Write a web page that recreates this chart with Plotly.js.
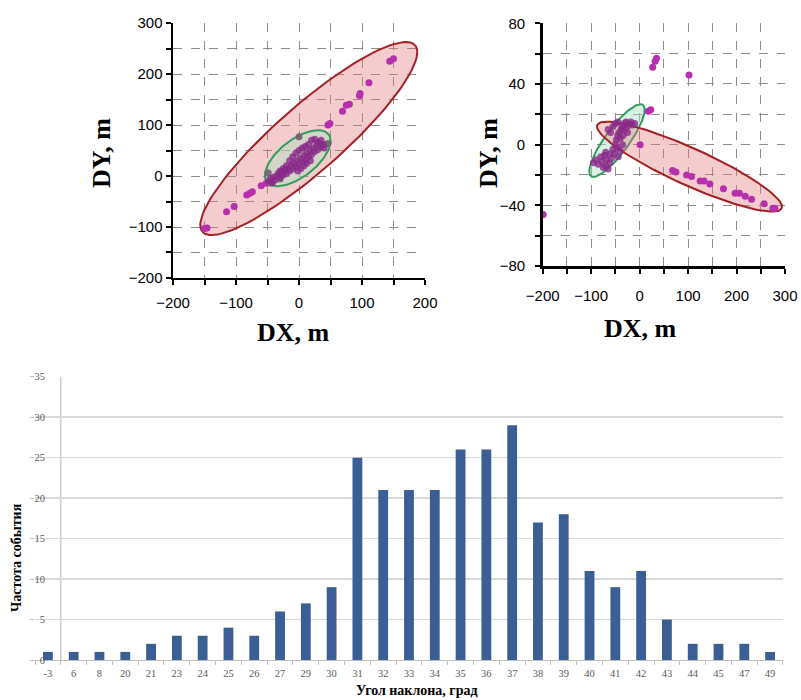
<!DOCTYPE html>
<html>
<head>
<meta charset="utf-8">
<script src="https://cdn.plot.ly/plotly-3.0.1.min.js"></script>
<style>html,body{margin:0;padding:0;background:#fff;}#chart{width:801px;height:700px;}</style>
</head>
<body>
<div id="chart"></div>
<script>
// ---------- Top-left scatter (DX, DY) ----------
const leftOuterX = [-150,-146,-115,-103,-83,-78,-74,-60,-52,46,49,69,75,80,96,97,111,144,150];
const leftOuterY = [-103,-102,-70,-60,-37,-34,-31,-19,-14,100,103,127,139,141,158,162,183,225,230];
const leftClusterX = [-48,-45,-42,-40,-38,-35,-33,-30,-28,-25,-22,-20,-18,-15,-12,-10,-8,-5,-3,0,2,5,8,10,12,15,18,20,22,25,28,30,32,35,38,40,-5,0,5,10,15,20,-15,-10,25,30,35,-20,-25,-30,8,12,18,-2,3];
const leftClusterY = [-10,-5,-12,-2,-8,0,5,-3,8,2,12,5,15,10,20,14,25,18,30,22,35,28,40,32,45,38,50,42,55,48,60,52,65,58,62,55,45,50,55,58,62,70,30,38,72,66,70,20,15,10,20,25,30,10,15];
const leftGrayX = [0,46,-49,-44,40,-30];
const leftGrayY = [77,64,6,-14,62,-6];

// ---------- Top-right scatter ----------
const rightOuterX = [-199,27,32,35,102,18,23,1,68,75,97,107,125,133,145,173,197,206,218,231,257,275,279];
const rightOuterY = [-46,51,55,57,46,22,23,0,-17,-18,-20,-21,-24,-24,-26,-29,-32,-32,-34,-36,-39,-42,-42];
const rightClusterX = [-95,-90,-85,-80,-78,-72,-70,-68,-65,-62,-60,-58,-55,-52,-50,-48,-46,-45,-42,-40,-38,-36,-34,-32,-30,-28,-25,-22,-18,-15,-10,-55,-50,-45,-60,-65,-40,-44,-75,-70,-35,-25];
const rightClusterY = [-12,-10,-13,-8,-11,-7,-14,-10,-16,-12,-6,-9,-3,-6,0,3,-2,6,8,4,10,12,6,14,10,15,12,14,15,13,14,12,14,15,8,10,-4,-8,-15,-5,0,8];

// ---------- Confidence ellipses: center, semi-axis vectors ----------
const ellLeftRedC = [15.5, 73.5],  ellLeftRedA = [168.7, 183.1], ellLeftRedB = [-34.6, 48.6];
const ellLeftGrnC = [-2, 35],      ellLeftGrnA = [48.9, 46.7],   ellLeftGrnB = [-18.1, 28.8];
const ellRightRedC = [103, -14.5], ellRightRedA = [190.3, -27.5], ellRightRedB = [15.7, 11.1];
const ellRightGrnC = [-46.7, 2.7], ellRightGrnA = [53.5, 23.5],  ellRightGrnB = [20, -4.66];

// ---------- Histogram ----------
const angleCats = ['-3','6','8','20','21','23','24','25','26','27','29','30','31','32','33','34','35','36','37','38','39','40','41','42','43','44','45','47','49'];
const angleFreq = [1,1,1,1,2,3,3,4,3,6,7,9,25,21,21,21,26,26,29,17,18,11,9,11,5,2,2,2,1];

function ellipse(c, a, b, xa, ya, line, fill) {
  const xs = [], ys = [];
  const n = 120;
  for (let i = 0; i <= n; i++) {
    const t = 2 * Math.PI * i / n;
    xs.push(c[0] + Math.cos(t) * a[0] + Math.sin(t) * b[0]);
    ys.push(c[1] + Math.cos(t) * a[1] + Math.sin(t) * b[1]);
  }
  return {x: xs, y: ys, xaxis: xa, yaxis: ya, mode: 'lines', fill: 'toself',
          fillcolor: fill, line: {color: line, width: 2}, hoverinfo: 'skip', showlegend: false};
}
function pts(x, y, xa, ya, color, size, op) {
  return {x: x, y: y, xaxis: xa, yaxis: ya, mode: 'markers', showlegend: false,
          marker: {color: color, size: size, opacity: op, line: {width: 0}}};
}

const MAG = '#b52fae', DARK = '#8a2a88', GRAY = '#6f5f70';
const RED = '#a51f26', REDF = 'rgba(226,120,125,0.38)';
const GRN = '#2f9e5c', GRNF = 'rgba(170,225,195,0.45)';

const traces = [
  ellipse(ellLeftRedC, ellLeftRedA, ellLeftRedB, 'x', 'y', RED, REDF),
  ellipse(ellLeftGrnC, ellLeftGrnA, ellLeftGrnB, 'x', 'y', GRN, GRNF),
  pts(leftOuterX, leftOuterY, 'x', 'y', MAG, 7, 1),
  pts(leftGrayX, leftGrayY, 'x', 'y', GRAY, 7, 0.9),
  pts(leftClusterX, leftClusterY, 'x', 'y', DARK, 7, 0.8),

  ellipse(ellRightGrnC, ellRightGrnA, ellRightGrnB, 'x2', 'y2', GRN, GRNF),
  ellipse(ellRightRedC, ellRightRedA, ellRightRedB, 'x2', 'y2', RED, REDF),
  pts(rightOuterX, rightOuterY, 'x2', 'y2', MAG, 7, 1),
  pts(rightClusterX, rightClusterY, 'x2', 'y2', DARK, 7, 0.8),

  {type: 'bar', x: angleCats, y: angleFreq, xaxis: 'x3', yaxis: 'y3',
   marker: {color: '#3b5e94'}, showlegend: false}
];

const tickFont = {family: 'Liberation Sans, Arial, sans-serif', size: 15, color: '#000'};
function topAxis(domain, range, dtick, mdtick, anchor, standoff) {
  return {domain: domain, range: range, anchor: anchor, dtick: dtick, tick0: 0,
    showline: true, linecolor: '#000', linewidth: 2.5, zeroline: false,
    showgrid: true, gridcolor: '#8c8c8c', griddash: 'dash', gridwidth: 1,
    ticks: 'outside', ticklen: 5, tickwidth: 2, tickcolor: '#000',
    ticklabelstandoff: standoff,
    minor: {dtick: mdtick, showgrid: true, gridcolor: '#8c8c8c', griddash: 'dash', gridwidth: 1,
            ticks: 'outside', ticklen: 5, tickwidth: 2, tickcolor: '#000'},
    tickfont: tickFont, fixedrange: true};
}

const serifSmall = {family: 'Liberation Serif, Times New Roman, serif', size: 10.5, color: '#595959'};
const titleBig = {family: 'Liberation Serif, Times New Roman, serif', size: 26, color: '#000', weight: 'bold'};
const titleSmall = {family: 'Liberation Serif, Times New Roman, serif', size: 14, color: '#000', weight: 'bold'};

const layout = {
  width: 801, height: 700, margin: {l: 0, r: 0, t: 0, b: 0},
  paper_bgcolor: '#fff', plot_bgcolor: 'rgba(0,0,0,0)', showlegend: false,
  bargap: 0.62,
  xaxis: topAxis([0.216, 0.5306], [-200, 200], 100, 50, 'y', 5),
  yaxis: topAxis([0.6029, 0.967], [-200, 300], 100, 50, 'x', 0),
  xaxis2: topAxis([0.6775, 0.980], [-200, 300], 100, 50, 'y2', 9),
  yaxis2: topAxis([0.62, 0.9667], [-80, 80], 40, 20, 'x2', 7),
  xaxis3: {domain: [0.0437, 0.9775], anchor: 'y3', type: 'category', range: [-0.5, 28.5],
    showline: true, linecolor: '#bfbfbf', linewidth: 1, showgrid: false,
    ticks: 'outside', tickson: 'boundaries', ticklen: 4, tickcolor: '#bfbfbf',
    ticklabelstandoff: 3, tickfont: serifSmall, fixedrange: true},
  yaxis3: {domain: [0.0571, 0.4619], anchor: 'x3', range: [0, 35], dtick: 5,
    showline: false, zeroline: false, showgrid: true, gridcolor: '#d9d9d9', gridwidth: 1.5,
    ticks: 'outside', ticklen: 4, tickcolor: '#bfbfbf', ticklabelstandoff: -17,
    tickfont: serifSmall, fixedrange: true},
  shapes: [
    {type: 'line', xref: 'x3', yref: 'y3 domain', x0: 0.5, x1: 0.5, y0: 0, y1: 1,
     line: {color: '#cfcfcf', width: 1.5}, layer: 'below'}
  ],
  annotations: [
    {text: 'DX, m', xref: 'paper', yref: 'paper', x: 293/801, y: 1 - 332/700, showarrow: false, font: titleBig, xanchor: 'center', yanchor: 'middle'},
    {text: 'DY, m', xref: 'paper', yref: 'paper', x: 101/801, y: 1 - 153/700, showarrow: false, font: titleBig, textangle: -90, xanchor: 'center', yanchor: 'middle'},
    {text: 'DX, m', xref: 'paper', yref: 'paper', x: 640/801, y: 1 - 328/700, showarrow: false, font: titleBig, xanchor: 'center', yanchor: 'middle'},
    {text: 'DY, m', xref: 'paper', yref: 'paper', x: 488/801, y: 1 - 153/700, showarrow: false, font: titleBig, textangle: -90, xanchor: 'center', yanchor: 'middle'},
    {text: 'Частота события', xref: 'paper', yref: 'paper', x: 16/801, y: 1 - 558/700, showarrow: false, font: titleSmall, textangle: -90, xanchor: 'center', yanchor: 'middle'},
    {text: 'Угол наклона, град', xref: 'paper', yref: 'paper', x: 417/801, y: 1 - 690/700, showarrow: false, font: titleSmall, xanchor: 'center', yanchor: 'middle'}
  ]
};

Plotly.newPlot('chart', traces, layout, {staticPlot: true, displayModeBar: false});
</script>
</body>
</html>
